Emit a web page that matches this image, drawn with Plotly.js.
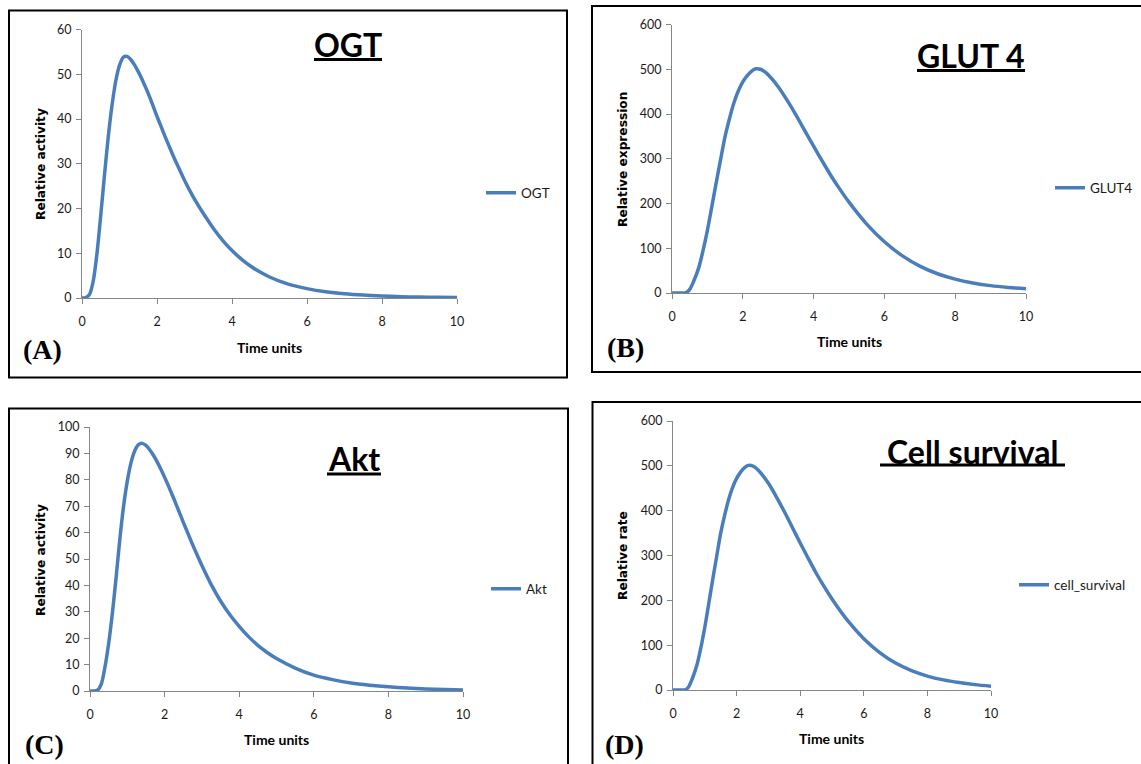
<!DOCTYPE html>
<html>
<head>
<meta charset="utf-8">
<script src="https://cdn.plot.ly/plotly-3.0.1.min.js"></script>
<style>
  html, body { margin: 0; padding: 0; background: #ffffff; }
  #chart { width: 1141px; height: 764px; }
</style>
</head>
<body>
<div id="chart"></div>
<script>
// Time courses of the four simulated readouts (time in arbitrary units)
const ogtTime = [0, 0.1, 0.2, 0.3, 0.4, 0.5, 0.6, 0.7, 0.8, 0.9, 1.0, 1.1, 1.2, 1.3, 1.4, 1.5, 1.6, 1.7, 1.8, 1.9, 2.0,
  2.1, 2.2, 2.3, 2.4, 2.5, 2.6, 2.7, 2.8, 2.9, 3.0, 3.25, 3.5, 3.75, 4.0, 4.25, 4.5, 4.75, 5.0, 5.5, 6.0, 6.5, 7.0, 7.5, 8.0, 8.5, 9.0, 9.5, 10];
const ogtActivity = [0, 0.1, 0.8, 3.8, 10, 18.5, 27.5, 36, 43, 48.5, 52, 53.8, 54, 53.3, 52.1, 50.6, 48.9, 47.0, 45.0, 42.8, 40.6,
  38.5, 36.4, 34.4, 32.4, 30.5, 28.7, 26.9, 25.2, 23.6, 22.1, 18.7, 15.6, 12.9, 10.6, 8.7, 7.1, 5.8, 4.7, 3.1, 2.1, 1.4, 0.95, 0.65, 0.45, 0.3, 0.2, 0.15, 0.1];

const glut4Time = [0, 0.25, 0.4, 0.5, 0.6, 0.75, 0.875, 1.0, 1.125, 1.25, 1.375, 1.5, 1.625, 1.75, 1.875, 2.0, 2.125, 2.25, 2.375, 2.5, 2.625, 2.75,
  3.0, 3.25, 3.5, 3.75, 4.0, 4.25, 4.5, 4.75, 5.0, 5.5, 6.0, 6.5, 7.0, 7.5, 8.0, 8.5, 9.0, 9.5, 10];
const glut4Expression = [0, 0, 1, 8, 24, 55, 94, 140, 193, 247, 299, 350, 390, 425, 452, 472, 486, 496, 501, 500, 494, 485,
  461, 431, 398, 363, 328, 294, 261, 231, 203, 154, 114.5, 83.5, 60, 43, 31, 22.5, 16.5, 12.5, 9.5];

const aktTime = [0, 0.1, 0.2, 0.3, 0.4, 0.5, 0.6, 0.7, 0.8, 0.9, 1.0, 1.1, 1.2, 1.3, 1.4, 1.5, 1.6, 1.7, 1.8, 1.9, 2.0,
  2.1, 2.2, 2.3, 2.4, 2.5, 2.6, 2.7, 2.8, 2.9, 3.0, 3.25, 3.5, 3.75, 4.0, 4.25, 4.5, 4.75, 5.0, 5.5, 6.0, 6.5, 7.0, 7.5, 8.0, 8.5, 9.0, 9.5, 10];
const aktActivity = [0, 0, 0.3, 2.5, 9, 18, 29.5, 43, 57.5, 70, 79.5, 86.5, 91, 93.3, 93.8, 93.0, 91.4, 89.3, 86.8, 84.0, 81.0,
  77.8, 74.45, 71.0, 67.5, 64.0, 60.55, 57.15, 53.85, 50.65, 47.55, 40.3, 34.1, 28.9, 24.5, 20.6, 17.3, 14.6, 12.3, 8.7, 6.0, 4.3, 3.0, 2.2, 1.6, 1.15, 0.8, 0.55, 0.4];

const survivalTime = [0, 0.25, 0.4, 0.5, 0.6, 0.75, 0.875, 1.0, 1.125, 1.25, 1.375, 1.5, 1.625, 1.75, 1.875, 2.0, 2.125, 2.25, 2.375, 2.5, 2.625, 2.75,
  3.0, 3.25, 3.5, 3.75, 4.0, 4.25, 4.5, 4.75, 5.0, 5.5, 6.0, 6.5, 7.0, 7.5, 8.0, 8.5, 9.0, 9.5, 10];
const survivalRate = [0, 0, 1, 8, 24, 55, 94, 140, 193, 247, 299, 350, 390, 425, 452, 472, 486, 496, 501, 500, 494, 485,
  461, 431, 398, 363, 328, 294, 261, 231, 203, 154, 114.5, 83.5, 60, 43, 31, 22.5, 16.5, 12, 8.5];

const seriesNames = ['OGT', 'GLUT4', 'Akt', 'cell_survival'];
const panelTitles = ['OGT', 'GLUT 4', 'Akt', 'Cell survival'];
const panelLetters = ['(A)', '(B)', '(C)', '(D)'];
const yTitles = ['Relative activity', 'Relative expression', 'Relative activity', 'Relative rate'];
const xTitle = 'Time units';
const yMax = [60, 600, 100, 600];
const yStep = [10, 100, 10, 100];
const xTicks = [0, 2, 4, 6, 8, 10];

const W = 1141, H = 764;
const px = x => x / W;
const py = y => 1 - y / H;

const BLUE = '#4A7EBB';
const AXIS_GREY = '#868686';
const SANS = 'Lato, "Open Sans", sans-serif';
const WIDE_SANS = '"DejaVu Sans", Verdana, sans-serif';

// Pixel placement of each panel: plot area, frame, title, legend and labels
const panels = [
  { plot: [82, 457, 29.5, 298], frame: [9, 567, 10.5, 377.5], title: [348, 44], underline: [314, 382, 59.5],
    legend: [481, 193], ylab: [41, 164], xlab: [269, 347], letter: [43, 349] },
  { plot: [672, 1026, 24.5, 293], frame: [592, 1150, 6, 372], title: [971, 55], underline: [917, 1025, 70.5],
    legend: [1050, 188], ylab: [623, 160], xlab: [849, 341], letter: [625, 347] },
  { plot: [90, 463, 427, 691], frame: [9, 568, 408.5, 780], title: [354, 458], underline: [327, 381, 474],
    legend: [486, 589], ylab: [41, 560], xlab: [276, 739], letter: [44, 744] },
  { plot: [673, 991, 421, 690], frame: [592.5, 1150, 402, 780], title: [972, 451], underline: [880, 1065, 465],
    legend: [1014, 585], ylab: [623, 556], xlab: [831, 738.6], letter: [624, 744] }
];

const xs = [ogtTime, glut4Time, aktTime, survivalTime];
const ys = [ogtActivity, glut4Expression, aktActivity, survivalRate];

const data = [];
const layout = {
  width: W, height: H,
  margin: { l: 0, r: 0, t: 0, b: 0 },
  paper_bgcolor: '#ffffff',
  plot_bgcolor: 'rgba(0,0,0,0)',
  font: { family: SANS, color: '#1a1a1a', size: 12 },
  showlegend: true,
  shapes: [],
  annotations: []
};

panels.forEach((p, i) => {
  const n = i + 1;
  const sfx = n === 1 ? '' : String(n);

  data.push({
    type: 'scatter', mode: 'lines',
    x: xs[i], y: ys[i],
    name: seriesNames[i],
    xaxis: 'x' + sfx, yaxis: 'y' + sfx,
    legend: 'legend' + sfx,
    showlegend: true,
    line: { color: BLUE, width: 3.5, shape: 'spline', smoothing: 0.8 },
    hoverinfo: 'skip'
  });

  const yTicks = [];
  for (let v = 0; v <= yMax[i]; v += yStep[i]) yTicks.push(v);

  const axisStyle = {
    showline: true, linecolor: AXIS_GREY, linewidth: 1,
    ticks: 'outside', ticklen: 5, tickcolor: AXIS_GREY, tickwidth: 1,
    showgrid: false, zeroline: false,
    tickfont: { family: SANS, size: 12.5, color: '#1a1a1a' }
  };

  layout['xaxis' + sfx] = Object.assign({
    domain: [px(p.plot[0]), px(p.plot[1])],
    anchor: 'y' + sfx,
    range: [0, 10], tickvals: xTicks, ticktext: xTicks.map(String),
    ticklabelstandoff: 7
  }, axisStyle);
  layout['yaxis' + sfx] = Object.assign({
    domain: [py(p.plot[3]), py(p.plot[2])],
    anchor: 'x' + sfx,
    range: [0, yMax[i]], tickvals: yTicks, ticktext: yTicks.map(String),
    ticklabelstandoff: 2
  }, axisStyle);
  layout['legend' + sfx] = {
    x: px(p.legend[0]), y: py(p.legend[1]),
    xanchor: 'left', yanchor: 'middle',
    bgcolor: 'rgba(0,0,0,0)', borderwidth: 0,
    itemwidth: 30,
    font: { family: SANS, size: 13.5, color: '#1a1a1a' }
  };

  // panel frame
  layout.shapes.push({
    type: 'rect', xref: 'paper', yref: 'paper', layer: 'above',
    x0: px(p.frame[0]), x1: px(p.frame[1]), y0: py(p.frame[3]), y1: py(p.frame[2]),
    line: { color: '#000000', width: 2 }
  });
  // title underline
  layout.shapes.push({
    type: 'line', xref: 'paper', yref: 'paper',
    x0: px(p.underline[0]), x1: px(p.underline[1]), y0: py(p.underline[2]), y1: py(p.underline[2]),
    line: { color: '#000000', width: 3 }
  });

  layout.annotations.push(
    { text: '<b>' + panelTitles[i] + '</b>', xref: 'paper', yref: 'paper',
      x: px(p.title[0]), y: py(p.title[1]), xanchor: 'center', yanchor: 'middle',
      showarrow: false, font: { family: SANS, size: 32, color: '#000000' } },
    { text: '<b>' + yTitles[i] + '</b>', xref: 'paper', yref: 'paper', textangle: -90,
      x: px(p.ylab[0]), y: py(p.ylab[1]), xanchor: 'center', yanchor: 'middle',
      showarrow: false, font: { family: WIDE_SANS, size: 12.2, color: '#000000' } },
    { text: '<b>' + xTitle + '</b>', xref: 'paper', yref: 'paper',
      x: px(p.xlab[0]), y: py(p.xlab[1]), xanchor: 'center', yanchor: 'middle',
      showarrow: false, font: { family: SANS, size: 14, color: '#000000' } },
    { text: '<b>' + panelLetters[i] + '</b>', xref: 'paper', yref: 'paper',
      x: px(p.letter[0]), y: py(p.letter[1]), xanchor: 'center', yanchor: 'middle',
      showarrow: false, font: { family: '"Liberation Serif", "DejaVu Serif", serif', size: 28, color: '#000000' } }
  );
});

Plotly.newPlot('chart', data, layout, { staticPlot: true, displayModeBar: false });
</script>
</body>
</html>
